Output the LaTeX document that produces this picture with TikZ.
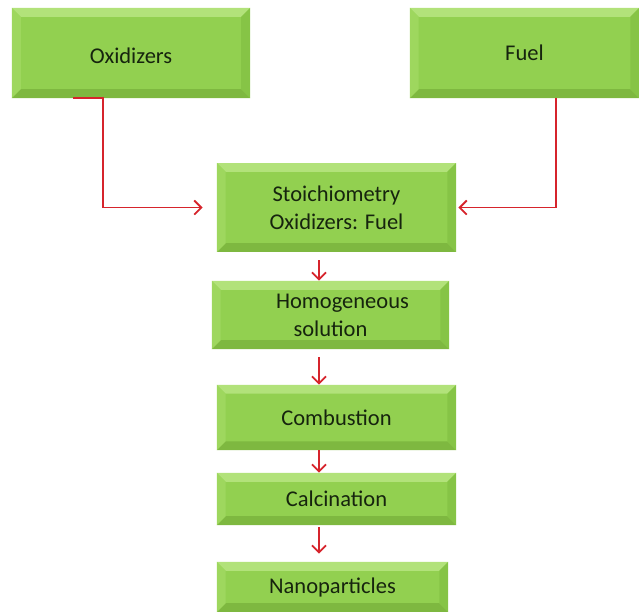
\documentclass[tikz,border=0pt]{standalone}
\usepackage{fontspec}
\setmainfont{Carlito}
\usetikzlibrary{arrows.meta,calc}
\definecolor{boxgreen}{RGB}{146,208,80}
\definecolor{bevtop}{RGB}{178,226,122}
\definecolor{bevleft}{RGB}{158,215,94}
\definecolor{bevright}{RGB}{134,196,70}
\definecolor{bevbot}{RGB}{126,184,64}
\definecolor{flowred}{RGB}{214,36,44}
\definecolor{textdark}{RGB}{22,36,14}
\def\bv{0.22cm}
\tikzset{
  stepbox/.style={fill=boxgreen, inner sep=0pt, align=center,
    text=textdark, font=\fontsize{16}{20}\selectfont,
    path picture={
      \path (path picture bounding box.north west) coordinate (bnw)
            (path picture bounding box.south east) coordinate (bse);
      \fill[bevtop] (bnw) -- (bnw -| bse) -- ($(bnw -| bse)+(-\bv,-\bv)$) -- ($(bnw)+(\bv,-\bv)$) -- cycle;
      \fill[bevbot] (bse -| bnw) -- (bse) -- ($(bse)+(-\bv,\bv)$) -- ($(bse -| bnw)+(\bv,\bv)$) -- cycle;
      \fill[bevleft] (bnw) -- ($(bnw)+(\bv,-\bv)$) -- ($(bse -| bnw)+(\bv,\bv)$) -- (bse -| bnw) -- cycle;
      \fill[bevright] (bnw -| bse) -- ($(bnw -| bse)+(-\bv,-\bv)$) -- ($(bse)+(-\bv,\bv)$) -- (bse) -- cycle;
    }},
  flow/.style={draw=flowred, line width=1.3pt, -{Straight Barb[length=5pt,width=10pt]}}
}
\begin{document}
\begin{tikzpicture}[x=0.025cm, y=-0.025cm]
\useasboundingbox (0,0) rectangle (639,612);
%\draw[step=10,gray,very thin] (0,0) grid (639,612);

% sources
\node[stepbox, minimum width=5.95cm, minimum height=2.25cm] (oxid) at (131,53) {\raisebox{-0.27cm}[0pt][0pt]{Oxidizers}};
\node[stepbox, minimum width=5.73cm, minimum height=2.25cm] (fuel) at (524.5,53) {Fuel};

% process chain
\node[stepbox, minimum width=5.98cm, minimum height=2.22cm] (stoich) at (336.5,207.5) {Stoichiometry\\Oxidizers: Fuel};
\node[stepbox, minimum width=5.93cm, minimum height=1.7cm] (homog) at (330.5,315) {\hspace{0.6cm}Homogeneous\\solution};
\node[stepbox, minimum width=5.98cm, minimum height=1.63cm] (combust) at (336.5,417.5) {Combustion};
\node[stepbox, minimum width=5.98cm, minimum height=1.3cm] (calcin) at (336.5,499) {Calcination};
\node[stepbox, minimum width=5.78cm, minimum height=1.25cm] (nano) at (332.5,587) {Nanoparticles};

\coordinate (oxtap) at (73,98);
\coordinate (fueltap) at (556,98);
\coordinate (ax) at (319,0);

% inputs
\draw[flow, shorten >=0.35cm] (oxtap) -- ++(30,0) |- (stoich.west);
\draw[flow, shorten >=0.05cm] (fueltap) |- (stoich.east);

% chain arrows
\draw[flow, shorten <=0.2cm] (stoich.south -| ax) -- (homog.north -| ax);
\draw[flow, shorten <=0.2cm] (homog.south -| ax) -- (combust.north -| ax);
\draw[flow] (combust.south -| ax) -- (calcin.north -| ax);
\draw[flow, shorten <=0.05cm, shorten >=0.2cm] (calcin.south -| ax) -- (nano.north -| ax);
\end{tikzpicture}
\end{document}
